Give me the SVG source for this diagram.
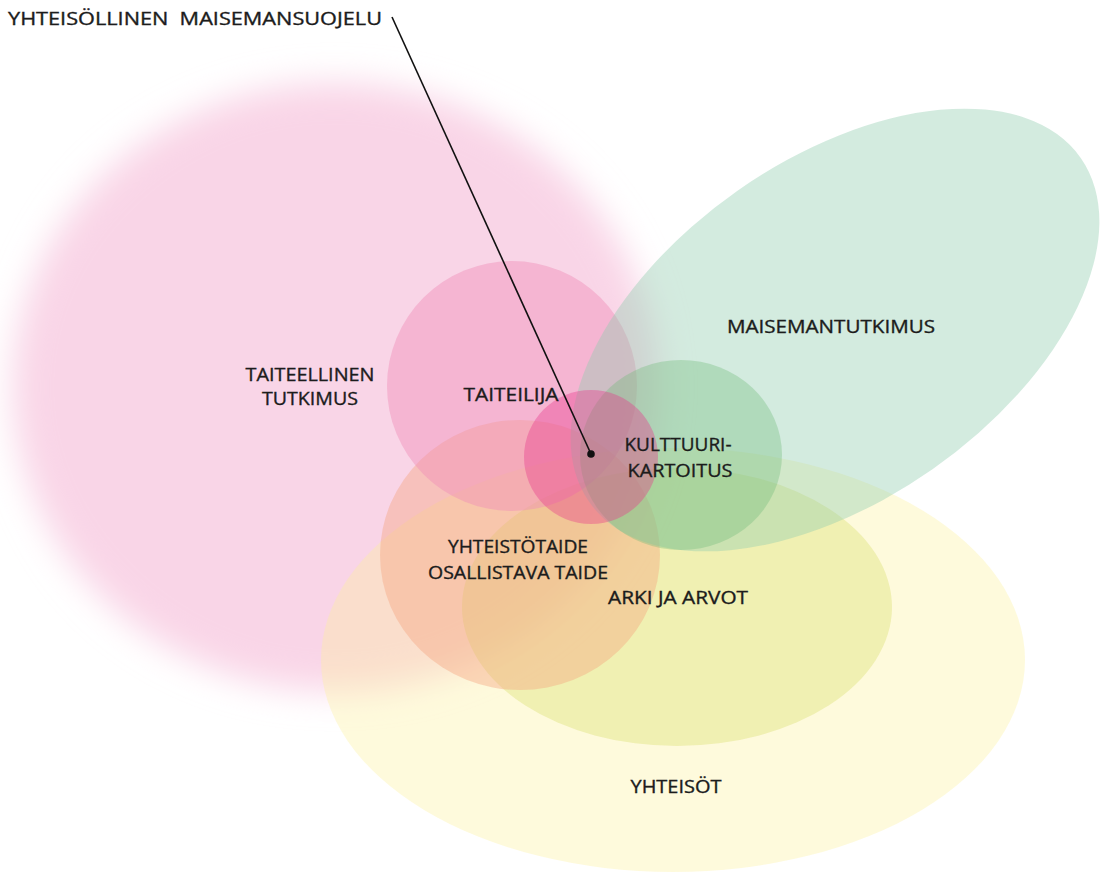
<svg xmlns="http://www.w3.org/2000/svg" width="1103" height="874" viewBox="0 0 1103 874">
<style>
  .lbl { font-family: "Open Sans", "Noto Sans", "DejaVu Sans", sans-serif; font-size: 18px; fill: #1c1c1c; stroke: #1c1c1c; stroke-width: 0.35px; }
  .c { text-anchor: middle; }
  .lead { stroke: #111; stroke-width: 1.6; fill: none; }
</style>
<defs>
  <filter id="soft" x="-20%" y="-20%" width="140%" height="140%">
    <feGaussianBlur stdDeviation="17"/>
  </filter>
</defs>
<rect width="1103" height="874" fill="#ffffff"/>

<g id="taiteellinen-tutkimus">
  <ellipse cx="335" cy="387" rx="322" ry="304" fill="#f9d5e7" filter="url(#soft)"/>
</g>
<g id="yhteisot">
  <ellipse cx="673" cy="660" rx="352" ry="212" fill="#fcf19b" fill-opacity="0.35"/>
</g>
<g id="arki-ja-arvot">
  <ellipse cx="677" cy="607" rx="215" ry="139" fill="#d6dd64" fill-opacity="0.35"/>
</g>
<g id="yhteistotaide">
  <ellipse cx="520" cy="555" rx="140" ry="135" fill="#f5a27e" fill-opacity="0.4"/>
</g>
<g id="taiteilija">
  <circle cx="512" cy="386" r="125" fill="#f08fb9" fill-opacity="0.45"/>
</g>
<g id="maisemantutkimus">
  <ellipse cx="835" cy="330" rx="300" ry="170" transform="rotate(-35 835 330)" fill="#91cdaf" fill-opacity="0.4"/>
</g>
<g id="kulttuurikartoitus">
  <ellipse cx="681" cy="455" rx="101" ry="95" fill="#6fba77" fill-opacity="0.35"/>
</g>
<g id="yhteisollinen-ydin">
  <circle cx="591" cy="457" r="67" fill="#e8378c" fill-opacity="0.38"/>
</g>

<g id="labels">
  <text class="lbl c" x="310" y="381" textLength="129" lengthAdjust="spacingAndGlyphs">TAITEELLINEN</text>
  <text class="lbl c" x="310" y="405" textLength="96" lengthAdjust="spacingAndGlyphs">TUTKIMUS</text>
  <text class="lbl c" x="511" y="401" textLength="95" lengthAdjust="spacingAndGlyphs">TAITEILIJA</text>
  <text class="lbl c" x="831" y="333" textLength="208" lengthAdjust="spacingAndGlyphs">MAISEMANTUTKIMUS</text>
  <text class="lbl c" x="678" y="451" textLength="107" lengthAdjust="spacingAndGlyphs">KULTTUURI-</text>
  <text class="lbl c" x="680" y="477" textLength="105" lengthAdjust="spacingAndGlyphs">KARTOITUS</text>
  <text class="lbl c" x="518" y="553" textLength="140" lengthAdjust="spacingAndGlyphs">YHTEISTÖTAIDE</text>
  <text class="lbl c" x="518" y="579" textLength="180" lengthAdjust="spacingAndGlyphs">OSALLISTAVA TAIDE</text>
  <text class="lbl c" x="678" y="604" textLength="140" lengthAdjust="spacingAndGlyphs">ARKI JA ARVOT</text>
  <text class="lbl c" x="676" y="793" textLength="91" lengthAdjust="spacingAndGlyphs">YHTEISÖT</text>
</g>

<g id="yhteisollinen-maisemansuojelu">
  <text class="lbl" x="8" y="25" textLength="374" lengthAdjust="spacingAndGlyphs" xml:space="preserve">YHTEISÖLLINEN  MAISEMANSUOJELU</text>
</g>

<g id="connectors">
  <line class="lead" x1="392" y1="17" x2="591" y2="454"/>
  <circle cx="591" cy="454" r="3.8" fill="#111"/>
</g>
</svg>
